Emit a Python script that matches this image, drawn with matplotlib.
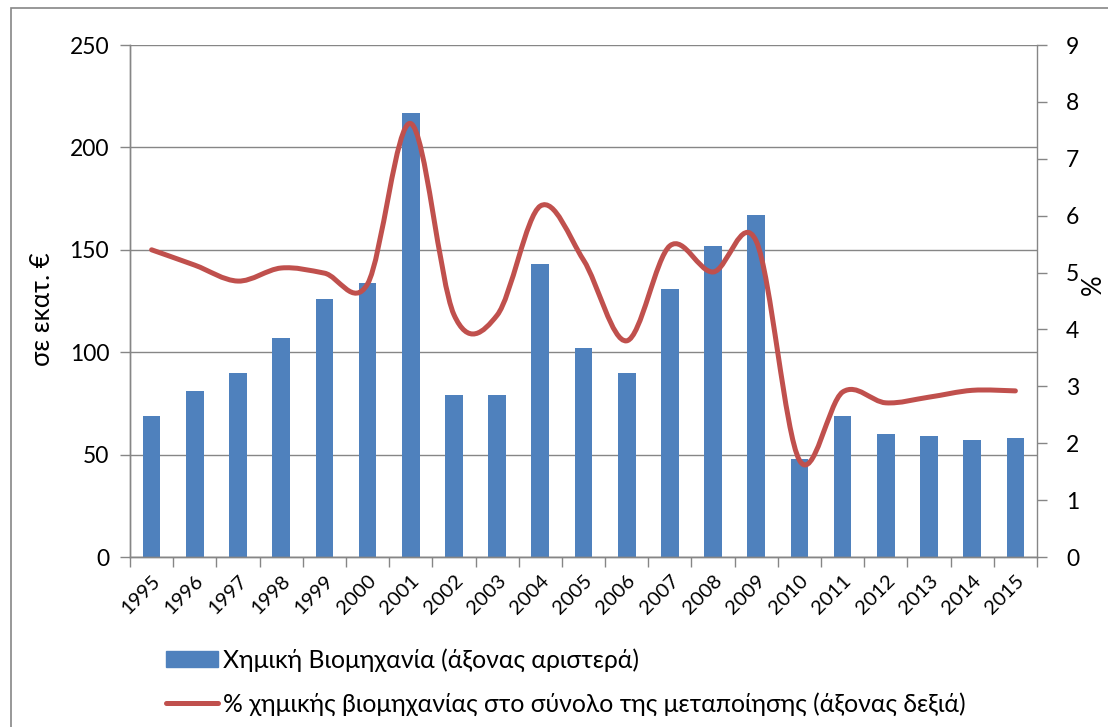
import numpy as np
import matplotlib
matplotlib.use("Agg")
import matplotlib.pyplot as plt
from matplotlib.path import Path
from matplotlib.patches import PathPatch, Rectangle
from matplotlib.lines import Line2D

plt.rcParams['font.family'] = ['Lato', 'Open Sans', 'DejaVu Sans']

years = [str(y) for y in range(1995, 2016)]
# million euro, left axis
chem_industry = [69, 81, 90, 107, 126, 134, 217, 79, 79, 143, 102, 90, 131, 152, 167,
                 48, 69, 60, 59, 57, 58]
# share of manufacturing, %, right axis
chem_share = [5.40, 5.13, 4.85, 5.08, 4.99, 4.80, 7.62, 4.26, 4.25, 6.17, 5.22, 3.80,
              5.47, 5.01, 5.55, 1.70, 2.90, 2.71, 2.81, 2.93, 2.92]

bar_label = 'Χημική Βιομηχανία (άξονας αριστερά)'
line_label = '% χημικής βιομηχανίας στο σύνολο της μεταποίησης (άξονας δεξιά)'

blue = '#4F81BD'
red = '#C0504D'
grey = '#868686'

fig = plt.figure(figsize=(11.08, 7.27), dpi=100)
ax = fig.add_axes([130 / 1108, 1 - 557 / 727, (1037 - 130) / 1108, (557 - 45) / 727])
ax2 = ax.twinx()

x = np.arange(len(years))
ax.bar(x, chem_industry, width=0.41, color=blue, zorder=2)

# smoothed line like Excel (Catmull-Rom as cubic Bezier)
pts = np.column_stack([x, chem_share]).astype(float)
ext = np.vstack([pts[0], pts, pts[-1]])
verts = [tuple(pts[0])]
codes = [Path.MOVETO]
for i in range(len(pts) - 1):
    p0, p1, p2, p3 = ext[i], ext[i + 1], ext[i + 2], ext[i + 3]
    c1 = p1 + (p2 - p0) / 6
    c2 = p2 - (p3 - p1) / 6
    verts += [tuple(c1), tuple(c2), tuple(p2)]
    codes += [Path.CURVE4] * 3
ax2.add_patch(PathPatch(Path(verts, codes), fill=False, edgecolor=red, lw=3.6,
                        capstyle='round', joinstyle='round', zorder=3))

ax.set_xlim(-0.5, len(years) - 0.5)
ax.set_ylim(0, 250)
ax.set_yticks(range(0, 251, 50))
ax2.set_ylim(0, 9)
ax2.set_yticks(range(0, 10))

ax.set_xticks(np.arange(len(years) + 1) - 0.5)
ax.set_xticklabels([])
ax.set_xticks(x, minor=True)
ax.set_xticklabels(years, minor=True, rotation=45, ha='right', rotation_mode='anchor',
                   fontsize=14.5)
ax.tick_params(axis='x', which='minor', length=0, pad=11)
ax.tick_params(axis='x', which='major', length=7, width=1, color=grey)
ax.tick_params(axis='y', length=7, width=1, color=grey, labelsize=16.5, pad=8)
ax2.tick_params(axis='y', length=7, width=1, color=grey, labelsize=16.5, pad=14)

ax.grid(axis='y', color=grey, lw=1, zorder=0)
ax.set_axisbelow(True)
for a in (ax, ax2):
    a.spines['top'].set_visible(False)
    for s in ('left', 'right', 'bottom'):
        a.spines[s].set_color(grey)
        a.spines[s].set_linewidth(1)
ax.spines['right'].set_visible(False)

ax.set_ylabel('σε εκατ. €', fontsize=18.5)
ax.yaxis.set_label_coords((55 - 130) / 907, (557 - 309) / 512)
ax2.set_ylabel('%', fontsize=18.5)
ax2.yaxis.set_label_coords((1081 - 130) / 907, (557 - 285) / 512)

handles = [Rectangle((0, 0), 1, 1, color=blue),
           Line2D([0], [0], color=red, lw=3.6, solid_capstyle='round')]
fig.legend(handles, [bar_label, line_label], loc='center left',
           bbox_to_anchor=(166 / 1108, 1 - 682 / 727), frameon=False, fontsize=17.8,
           handlelength=2.1, handleheight=0.6, handletextpad=0.2, labelspacing=0.8,
           borderpad=0, borderaxespad=0)

fig.patches.append(Rectangle((11 / 1108, -0.1), 1.2, 1 - 8 / 727 + 0.1, transform=fig.transFigure,
                             fill=False, edgecolor=grey, lw=1.2))

fig.savefig('out.png', dpi=100)
